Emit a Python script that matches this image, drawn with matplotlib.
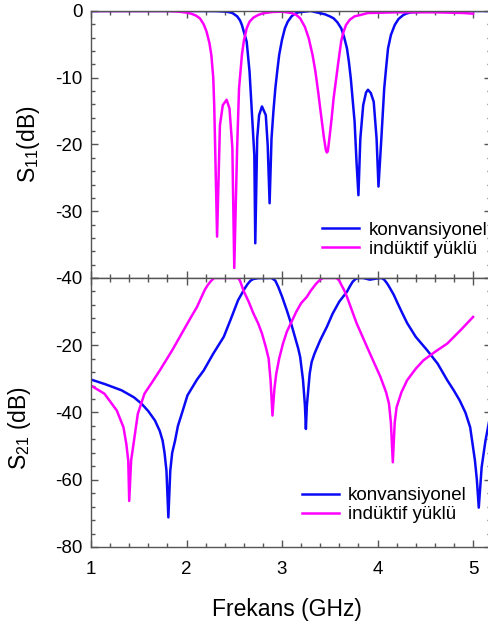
import matplotlib.pyplot as plt
from matplotlib.ticker import MultipleLocator

# S11 - konvansiyonel (blue)
f_s11_konv = [1.00, 2.00, 2.30, 2.42, 2.48, 2.53, 2.56, 2.58, 2.60, 2.63, 2.66, 2.69, 2.71, 2.72,
              2.74, 2.76, 2.79, 2.83, 2.85, 2.87, 2.89, 2.91, 2.93, 2.95, 2.97, 3.00, 3.03, 3.06,
              3.10, 3.13, 3.17, 3.30, 3.36, 3.45, 3.50, 3.54, 3.58, 3.62, 3.65, 3.68, 3.70, 3.72,
              3.76, 3.78, 3.80, 3.82, 3.85, 3.88, 3.90, 3.93, 3.96, 3.99, 4.01, 4.04, 4.07, 4.09,
              4.11, 4.14, 4.18, 4.22, 4.27, 4.30, 4.35, 4.60, 5.20]
s11_konv = [0, 0, -0.02, -0.1, -0.3, -0.8, -1.4, -2.1, -3.1, -4.6, -9.1, -16.6, -21.6, -34.8,
            -19.1, -15.6, -14.3, -15.6, -20.1, -28.8, -19.1, -15, -11.6, -9, -6.6, -4.3, -2.6, -1.6,
            -0.8, -0.45, -0.2, 0, -0.2, -0.5, -0.8, -1.1, -1.7, -2.6, -3.9, -5.6, -7.6, -10.1,
            -16.6, -22.6, -27.6, -19.1, -14.1, -12.2, -11.8, -12.3, -13.6, -19.1, -26.3, -19.1, -11.6, -8.5,
            -5.6, -3.6, -2.1, -1.2, -0.6, -0.4, -0.2, 0, 0]

# S11 - induktif yuklu (magenta)
f_s11_ind = [1.00, 1.80, 1.90, 1.95, 2.00, 2.05, 2.10, 2.14, 2.18, 2.21, 2.24, 2.26, 2.28, 2.29,
             2.30, 2.32, 2.35, 2.38, 2.42, 2.45, 2.48, 2.50, 2.53, 2.55, 2.58, 2.60, 2.63, 2.66,
             2.70, 2.75, 2.80, 2.90, 3.00, 3.10, 3.15, 3.19, 3.24, 3.28, 3.32, 3.35, 3.38, 3.40,
             3.44, 3.46, 3.47, 3.48, 3.50, 3.52, 3.54, 3.57, 3.59, 3.62, 3.64, 3.67, 3.71, 3.76,
             3.82, 3.90, 4.20, 4.60, 4.90, 5.00]
s11_ind = [0, 0, -0.08, -0.15, -0.25, -0.4, -0.7, -1.1, -2.0, -3.1, -4.8, -6.6, -10, -14.1,
           -20.5, -33.8, -17.1, -14.1, -13.3, -14.6, -20.5, -38.5, -20.5, -11.6, -6.6, -4.5, -2.6, -1.6,
           -1.0, -0.6, -0.35, -0.15, -0.1, -0.3, -0.6, -1.1, -2.4, -4.1, -6.6, -9.1, -12.3, -14.6,
           -19.1, -20.9, -21.2, -21.0, -18.6, -16, -13.1, -9.8, -7.6, -4.5, -3.3, -2.1, -1.3, -0.8,
           -0.6, -0.3, -0.2, -0.2, -0.3, -0.4]

# S21 - konvansiyonel (blue)
f_s21_konv = [1.00, 1.15, 1.32, 1.45, 1.53, 1.60, 1.67, 1.72, 1.75, 1.77, 1.79, 1.81, 1.83, 1.85,
              1.88, 1.91, 1.95, 2.01, 2.11, 2.18, 2.28, 2.39, 2.46, 2.54, 2.58, 2.61, 2.64, 2.67,
              2.70, 2.75, 2.89, 2.93, 2.96, 3.00, 3.05, 3.10, 3.14, 3.17, 3.19, 3.22, 3.24, 3.25,
              3.26, 3.29, 3.31, 3.34, 3.40, 3.47, 3.53, 3.60, 3.68, 3.71, 3.74, 3.77, 3.80, 3.85,
              3.92, 3.98, 4.04, 4.07, 4.10, 4.13, 4.17, 4.21, 4.26, 4.31, 4.40, 4.52, 4.63, 4.73,
              4.80, 4.86, 4.92, 4.97, 5.02, 5.04, 5.06, 5.09, 5.13, 5.17, 5.20]
s21_konv = [-30.2, -31.6, -33.4, -35.5, -37.4, -39.6, -42.4, -45.5, -48.4, -52, -57.3, -71.2, -57.3, -52,
            -48.4, -44, -40.4, -34.9, -30.2, -27.5, -22.5, -17.5, -12.5, -6.6, -4.6, -3.1, -1.8, -0.8,
            -0.3, -0.05, 0, -0.8, -2.6, -5.5, -9.6, -14, -18, -21, -23.5, -30.4, -38, -44.9,
            -38, -28.4, -25, -22.5, -18.5, -14.5, -10.6, -7, -4.1, -2.5, -1.1, -0.3, 0, 0,
            -0.5, -0.2, 0, -0.5, -1.6, -3, -5, -7.5, -10.5, -13.4, -17.5, -21.5, -25.5, -30.4,
            -33.5, -36.4, -40, -44.4, -54.3, -60, -68.3, -56.3, -48.4, -42.4, -40]

# S21 - induktif yuklu (magenta)
f_s21_ind = [1.00, 1.14, 1.27, 1.34, 1.37, 1.39, 1.40, 1.42, 1.46, 1.49, 1.56, 1.64, 1.72, 1.85,
             1.97, 2.05, 2.11, 2.19, 2.22, 2.25, 2.27, 2.29, 2.54, 2.56, 2.58, 2.60, 2.65, 2.70,
             2.75, 2.79, 2.83, 2.86, 2.88, 2.90, 2.92, 2.94, 2.97, 3.01, 3.05, 3.10, 3.15, 3.20,
             3.26, 3.30, 3.36, 3.40, 3.43, 3.57, 3.60, 3.62, 3.65, 3.68, 3.73, 3.78, 3.89, 4.03,
             4.09, 4.12, 4.14, 4.16, 4.18, 4.20, 4.25, 4.31, 4.40, 4.48, 4.60, 4.73, 4.87, 5.00]
s21_ind = [-32, -34.4, -39.4, -44.4, -49.4, -54.3, -66.3, -54.3, -46.4, -40.4, -34.4, -31, -27.5, -21.5,
           -15.5, -11.5, -8.6, -3.6, -2.2, -1.1, -0.5, 0, 0, -0.8, -2.4, -4, -7, -10.5,
           -13.5, -16.5, -20.5, -24, -30.4, -40.9, -33, -28.4, -24, -19.5, -16, -13, -10, -7.5,
           -5.6, -3.8, -1.6, -0.5, 0, 0, -0.8, -2, -3.6, -5.6, -9.5, -13.4, -20.5, -29.4,
           -34, -37.4, -43, -54.8, -43, -38.4, -34, -30.4, -27, -24.5, -22, -19.5, -15.5, -11.6]

labels = ['konvansiyonel', 'indüktif yüklü']
blue = '#0a0af5'
magenta = '#ff00ff'

plt.rcParams['font.family'] = ['Liberation Sans', 'DejaVu Sans']
plt.rcParams['mathtext.fontset'] = 'custom'
plt.rcParams['mathtext.rm'] = 'Liberation Sans'
plt.rcParams['mathtext.it'] = 'Liberation Sans'
plt.rcParams['mathtext.default'] = 'regular'
plt.rcParams['axes.unicode_minus'] = False

fig = plt.figure(figsize=(4.89, 6.24), dpi=100)
ax1 = fig.add_axes([0.1861, 0.5545, 0.817, 0.4279])
ax2 = fig.add_axes([0.1861, 0.1234, 0.817, 0.4311])


def style(ax):
    for s in ax.spines.values():
        s.set_color('#555555')
        s.set_linewidth(1)
    ax.tick_params(which='both', direction='in', top=True, right=True,
                   color='#555555', labelsize=13.5)
    ax.tick_params(which='major', length=5, width=1)
    ax.tick_params(which='minor', length=3, width=1)
    ax.tick_params(axis='y', pad=6)
    ax.tick_params(axis='x', pad=10)
    ax.xaxis.set_major_locator(MultipleLocator(1))
    ax.xaxis.set_minor_locator(MultipleLocator(0.2))
    ax.set_xlim(1, 5.183)


# top panel
ax1.plot(f_s11_konv, s11_konv, color=blue, lw=1.8, label=labels[0])
ax1.plot(f_s11_ind, s11_ind, color=magenta, lw=1.8, label=labels[1])
style(ax1)
ax1.set_ylim(-40, 0)
ax1.yaxis.set_major_locator(MultipleLocator(10))
ax1.yaxis.set_minor_locator(MultipleLocator(2))
ax1.tick_params(axis='x', labelbottom=False)
ax1.set_ylabel('S$_{11}$(dB)', fontsize=16.5)
ax1.yaxis.set_label_coords(-0.123, 0.5)
ax1.legend(loc='upper left', bbox_to_anchor=(0.578, 0.210), frameon=False, fontsize=13.5,
           handlelength=2.0, handletextpad=0.5, labelspacing=0.1, borderpad=0, borderaxespad=0)

# bottom panel
ax2.plot(f_s21_konv, s21_konv, color=blue, lw=1.8, label=labels[0])
ax2.plot(f_s21_ind, s21_ind, color=magenta, lw=1.8, label=labels[1])
style(ax2)
ax2.set_ylim(-80, 0)
ax2.set_yticks([-80, -60, -40, -20, 0])
ax2.set_yticklabels(['-80', '-60', '-40', '-20', ''])
ax2.yaxis.set_minor_locator(MultipleLocator(4))
ax2.set_ylabel('S$_{21}$ (dB)', fontsize=16.5)
ax2.yaxis.set_label_coords(-0.145, 0.442)
ax2.set_xlabel('Frekans (GHz)', fontsize=16.5)
ax2.xaxis.set_label_coords(0.49, -0.234)
ax2.xaxis.label.set_va('center')
ax2.legend(loc='upper left', bbox_to_anchor=(0.527, 0.223), frameon=False, fontsize=13.5,
           handlelength=2.0, handletextpad=0.47, labelspacing=0.1, borderpad=0, borderaxespad=0)

fig.savefig('out.png', dpi=100)
